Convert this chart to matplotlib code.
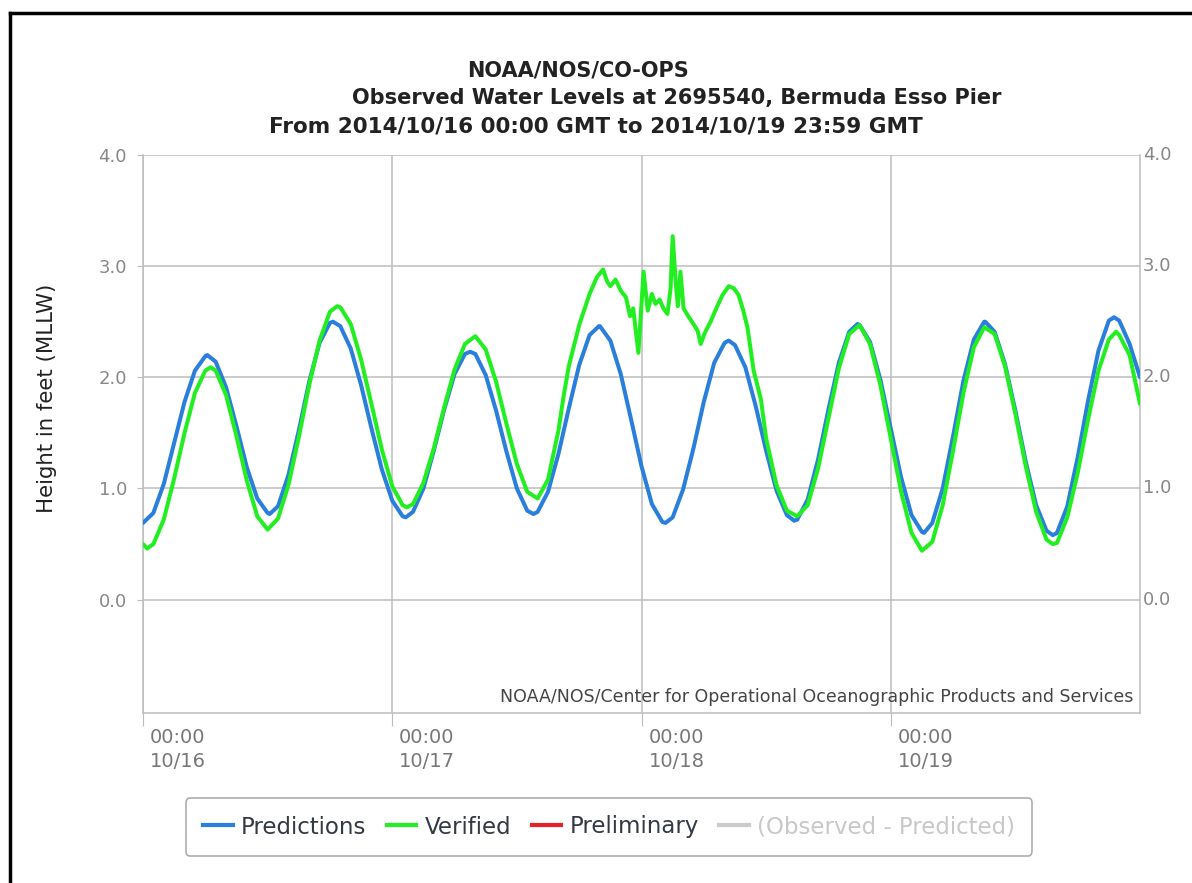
import numpy as np
import matplotlib
matplotlib.use("Agg")
import matplotlib.pyplot as plt
import matplotlib.transforms as mtransforms
from matplotlib.lines import Line2D

# hours since 2014/10/16 00:00 GMT
pred_hours = [0, 1, 2, 3, 4, 5, 6, 6.2, 7, 8, 9, 10, 11, 12, 12.2, 13, 14, 15, 16, 17,
              18, 18.3, 19, 20, 21, 22, 23, 24, 25, 25.3, 26, 27, 28, 29, 30, 31, 31.5,
              32, 33, 34, 35, 36, 37, 37.6, 38, 39, 40, 41, 42, 43, 43.9, 44, 45, 46,
              47, 48, 49, 50, 50.3, 51, 52, 53, 54, 55, 56, 56.4, 57, 58, 59, 60, 61,
              62, 62.7, 63, 64, 65, 66, 67, 68, 68.8, 69, 70, 71, 72, 73, 74, 75, 75.2,
              76, 77, 78, 79, 80, 81, 81.1, 82, 83, 84, 85, 86, 87, 87.6, 88, 89, 90,
              91, 92, 93, 93.5, 94, 95, 96]
pred_values = [0.69, 0.78, 1.04, 1.41, 1.78, 2.06, 2.19, 2.20, 2.14, 1.91, 1.56, 1.19,
               0.91, 0.78, 0.77, 0.84, 1.12, 1.52, 1.96, 2.31, 2.49, 2.50, 2.46, 2.26,
               1.93, 1.54, 1.17, 0.89, 0.75, 0.74, 0.79, 1.00, 1.34, 1.71, 2.03, 2.21,
               2.23, 2.21, 2.02, 1.70, 1.33, 1.00, 0.80, 0.77, 0.79, 0.97, 1.31, 1.72,
               2.11, 2.38, 2.46, 2.46, 2.33, 2.03, 1.62, 1.20, 0.86, 0.70, 0.69, 0.74,
               0.99, 1.36, 1.78, 2.13, 2.31, 2.33, 2.29, 2.09, 1.74, 1.34, 0.98, 0.76,
               0.71, 0.72, 0.90, 1.26, 1.71, 2.13, 2.41, 2.48, 2.47, 2.32, 1.98, 1.54,
               1.10, 0.76, 0.61, 0.60, 0.69, 1.00, 1.47, 1.97, 2.34, 2.50, 2.50, 2.41,
               2.12, 1.70, 1.24, 0.85, 0.62, 0.58, 0.60, 0.84, 1.28, 1.79, 2.24, 2.51,
               2.54, 2.51, 2.30, 2.00]

ver_hours = [0, 0.4, 1, 2, 3, 4, 5, 6, 6.5, 7, 8, 9, 10, 11, 12, 13, 14, 15, 16, 17, 18,
             18.7, 19, 20, 21, 22, 23, 24, 25, 25.4, 26, 27, 28, 29, 30, 31, 32, 33, 34,
             35, 36, 37, 38,
             39, 40, 40.5, 41, 42, 43, 43.7, 44.3, 44.7, 45.0, 45.5, 46.0, 46.5, 46.9,
             47.2, 47.7, 48.2, 48.6, 49.0, 49.35, 49.75, 50.1, 50.5, 50.8, 51.0, 51.3,
             51.5, 51.75, 52.05, 52.5, 53.0, 53.4, 53.7, 54.1, 54.65, 55.2, 55.8, 56.4,
             56.9, 57.35, 57.8, 58.2, 58.8, 59.5, 60, 61, 62, 63, 64, 65, 66, 67, 68,
             69, 70, 71, 72, 73, 74, 75, 76, 77, 78, 79, 80, 81, 82, 83, 84, 85, 86,
             87, 87.6, 88, 89, 90, 91, 92, 93, 93.7, 94, 95, 96]
ver_values = [0.50, 0.46, 0.50, 0.72, 1.09, 1.50, 1.86, 2.06, 2.09, 2.06, 1.84, 1.47,
              1.07, 0.75, 0.63, 0.73, 1.03, 1.46, 1.93, 2.33, 2.59, 2.64, 2.63, 2.48,
              2.16, 1.76, 1.35, 1.02, 0.85, 0.83, 0.86, 1.05, 1.36, 1.73, 2.07, 2.30,
              2.37, 2.25, 1.96, 1.58, 1.22, 0.97, 0.91,
              1.08, 1.52, 1.83, 2.10, 2.47, 2.75, 2.90, 2.97, 2.86, 2.82, 2.88, 2.78,
              2.72, 2.55, 2.62, 2.22, 2.95, 2.60, 2.75, 2.66, 2.70, 2.62, 2.57, 2.80,
              3.27, 2.85, 2.64, 2.95, 2.62, 2.55, 2.48, 2.42, 2.30, 2.40, 2.50, 2.62,
              2.74, 2.82, 2.80, 2.74, 2.60, 2.45, 2.06, 1.80, 1.45, 1.03, 0.80, 0.75,
              0.85, 1.18, 1.63, 2.08, 2.39, 2.47, 2.30, 1.93, 1.45, 0.97, 0.60, 0.44,
              0.52, 0.85, 1.34, 1.86, 2.27, 2.45, 2.39, 2.10, 1.67, 1.20, 0.79, 0.54,
              0.50, 0.51, 0.74, 1.14, 1.62, 2.06, 2.34, 2.41, 2.38, 2.20, 1.76]

day_ticks = [0, 24, 48, 72]
day_labels = ["00:00\n10/16", "00:00\n10/17", "00:00\n10/18", "00:00\n10/19"]
y_ticks = [0.0, 1.0, 2.0, 3.0, 4.0]

title_lines = ["NOAA/NOS/CO-OPS",
               "Observed Water Levels at 2695540, Bermuda Esso Pier",
               "From 2014/10/16 00:00 GMT to 2014/10/19 23:59 GMT"]
legend_names = ["Predictions", "Verified", "Preliminary", "(Observed - Predicted)"]
legend_colors = ["#2a7fdc", "#22ee22", "#e8202a", "#cccccc"]

grid_col = "#bdbdbd"

fig = plt.figure(figsize=(11.92, 8.83), dpi=100)
ax = fig.add_axes([143/1192, 1-713/883, (1140-143)/1192, (713-155)/883])

ax.plot(pred_hours, pred_values, color=legend_colors[0], lw=2.9,
        solid_capstyle="round", solid_joinstyle="round", zorder=3)
ax.plot(ver_hours, ver_values, color=legend_colors[1], lw=2.9,
        solid_capstyle="round", solid_joinstyle="round", zorder=4)

ax.set_xlim(0, 96)
ax.set_ylim(-1.02, 4.0)
ax.set_yticks(y_ticks)
ax.set_yticklabels([f"{v:.1f}" for v in y_ticks])
ax.set_xticks(day_ticks)
ax.set_xticklabels(day_labels)
ax.grid(True, color=grid_col, lw=1.1)
ax.set_axisbelow(True)

for side in ["left", "right", "bottom"]:
    ax.spines[side].set_color(grid_col)
    ax.spines[side].set_linewidth(1.1)
ax.spines["top"].set_visible(False)

ax.tick_params(axis="y", left=True, right=False, labelleft=True, labelright=False,
               length=4, color=grid_col, labelcolor="#888888", labelsize=13, pad=7.5)
ax.tick_params(axis="x", length=9, color=grid_col, labelcolor="#777777", labelsize=14, pad=2)
shift = mtransforms.ScaledTranslation(7/100, 0, fig.dpi_scale_trans)
for lab in ax.get_xticklabels():
    lab.set_horizontalalignment("left")
    lab.set_linespacing(1.3)
    lab.set_transform(lab.get_transform() + shift)

# right hand labels sit right against the axis
rtrans = mtransforms.blended_transform_factory(ax.transAxes, ax.transData)
for v in y_ticks:
    ax.text(1.003, v, f"{v:.1f}", transform=rtrans, ha="left", va="center",
            fontsize=13, color="#888888", clip_on=False)

fig.text(47/1192, 1-398/883, "Height in feet (MLLW)", rotation=90, ha="center",
         va="center", fontsize=15.3, color="#222222")

ax.text(0.993, 0.012, "NOAA/NOS/Center for Operational Oceanographic Products and Services",
        transform=ax.transAxes, ha="right", va="bottom", fontsize=12.5, color="#444444")

fig.text(578/1192, 1-70/883, title_lines[0], ha="center", va="center", fontsize=15,
         fontweight="bold", color="#222222")
fig.text(677/1192, 1-98/883, title_lines[1], ha="center", va="center", fontsize=15,
         fontweight="bold", color="#222222")
fig.text(596/1192, 1-126/883, title_lines[2], ha="center", va="center", fontsize=15.5,
         fontweight="bold", color="#222222")

handles = [Line2D([], [], color=c, lw=3) for c in legend_colors]
leg = fig.legend(handles, legend_names, loc="center", bbox_to_anchor=(609/1192, 1-827/883),
                 ncol=4, frameon=True, fancybox=True, fontsize=16.5, handlelength=1.3,
                 handletextpad=0.35, columnspacing=0.9, borderpad=0.75)
leg.get_frame().set_edgecolor("#999999")
leg.get_frame().set_linewidth(1.2)
for txt, c in zip(leg.get_texts(), ["#333a44", "#333a44", "#333a44", "#c8c8c8"]):
    txt.set_color(c)

# screenshot frame on left and top
fig.add_artist(Line2D([10/1192, 10/1192], [0, 1-13/883], color="black", lw=2.5,
                      transform=fig.transFigure))
fig.add_artist(Line2D([10/1192, 1], [1-13/883, 1-13/883], color="black", lw=2.5,
                      transform=fig.transFigure))

fig.savefig("out.png", dpi=100)
